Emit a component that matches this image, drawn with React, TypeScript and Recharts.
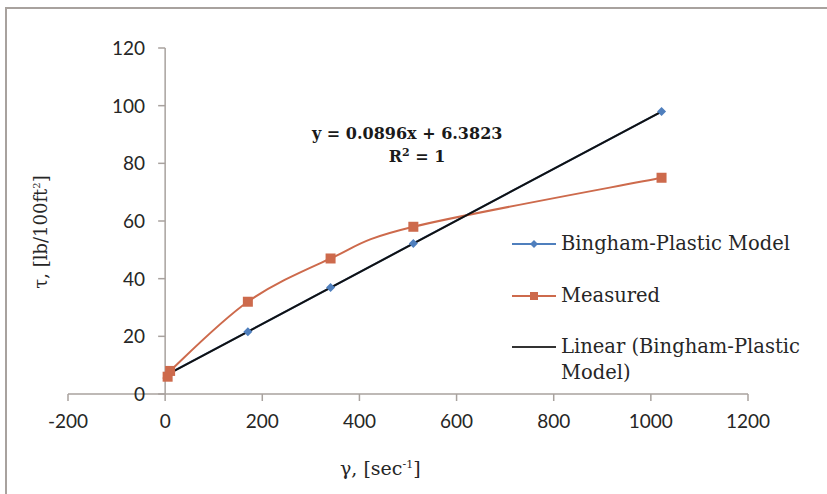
import { ComposedChart, Line, XAxis, YAxis, ReferenceLine } from 'recharts';

// shear rate (sec^-1) for the 3, 6, 100, 200, 300, 600 rpm readings
const shearRate = [5.11, 10.22, 170.3, 340.6, 511, 1022];
const binghamStress = [6.84, 7.3, 21.6, 36.9, 52.2, 97.95];
const measuredStress = [6, 8, 32, 47, 58, 75];
const trendX = [5.11, 1022];
const trendY = [6.84, 97.95];

const xTicks = [-200, 0, 200, 400, 600, 800, 1000, 1200];
const yTicks = [0, 20, 40, 60, 80, 100, 120];

const BLUE = '#4f7fbd';
const ORANGE = '#cd6a4c';
const AXIS = '#a8a29e';
const TEXT = '#262626';
const SERIF = '"DejaVu Serif", Georgia, serif';
const SANS = 'Lato, "Open Sans", sans-serif';

const W = 827;
const H = 494;
const Y_AXIS_W = 1;
const margin = { top: 48, right: 79, bottom: 70, left: 67 };
const X_MIN = -200;
const X_MAX = 1200;
const PLOT_LEFT = margin.left + Y_AXIS_W;
// y axis crosses at x = 0
const AXIS_X = PLOT_LEFT + ((W - PLOT_LEFT - margin.right) * (0 - X_MIN)) / (X_MAX - X_MIN);

const bingham = shearRate.map((x, i) => ({ x, y: binghamStress[i] }));
const measured = shearRate.map((x, i) => ({ x, y: measuredStress[i] }));
const trend = trendX.map((x, i) => ({ x, y: trendY[i] }));

// Excel-like smoothed line (Catmull-Rom through the points)
const excelSmooth = (context: any) => {
  let pts: number[][] = [];
  return {
    areaStart() {},
    areaEnd() {},
    lineStart() {
      pts = [];
    },
    point(x: number, y: number) {
      pts.push([+x, +y]);
    },
    lineEnd() {
      if (!pts.length) return;
      context.moveTo(pts[0][0], pts[0][1]);
      for (let i = 0; i < pts.length - 1; i++) {
        const p0 = pts[i - 1] || pts[i];
        const p1 = pts[i];
        const p2 = pts[i + 1];
        const p3 = pts[i + 2] || p2;
        context.bezierCurveTo(
          p1[0] + (p2[0] - p0[0]) / 6,
          p1[1] + (p2[1] - p0[1]) / 6,
          p2[0] - (p3[0] - p1[0]) / 6,
          p2[1] - (p3[1] - p1[1]) / 6,
          p2[0],
          p2[1]
        );
      }
    },
  };
};

const Diamond = ({ cx, cy }: any) => (
  <path d={`M${cx},${cy - 4.5}L${cx + 4.5},${cy}L${cx},${cy + 4.5}L${cx - 4.5},${cy}Z`} fill={BLUE} />
);

const Square = ({ cx, cy }: any) => <rect x={cx - 5} y={cy - 5} width={10} height={10} fill={ORANGE} />;

const renderYTick = ({ y, payload }: any) => (
  <g key={payload.value}>
    <line x1={AXIS_X - 7} x2={AXIS_X} y1={y} y2={y} stroke={AXIS} strokeWidth={1.5} />
    <text x={AXIS_X - 20} y={y} dy="0.36em" textAnchor="end" fill={TEXT} fontSize={19} fontFamily={SANS}>
      {payload.value}
    </text>
  </g>
);

const legendItems = [
  { label: 'Bingham-Plastic Model', color: BLUE, marker: 'diamond', top: 244 },
  { label: 'Measured', color: ORANGE, marker: 'square', top: 296 },
  { label: 'Linear (Bingham-Plastic\nModel)', color: '#333', marker: 'none', top: 347 },
];

export default function App() {
  return (
    <div
      style={{
        position: 'absolute',
        left: 0,
        top: 0,
        width: W,
        height: H,
        background: '#fff',
        overflow: 'hidden',
      }}
    >
      <div
        style={{
          position: 'absolute',
          left: 5,
          top: 7,
          width: W,
          height: H,
          borderTop: `2px solid ${AXIS}`,
          borderLeft: `2px solid ${AXIS}`,
        }}
      />
      <ComposedChart width={W} height={H} margin={margin}>
        <XAxis
          type="number"
          dataKey="x"
          domain={[X_MIN, X_MAX]}
          ticks={xTicks}
          allowDataOverflow
          height={30}
          stroke={AXIS}
          strokeWidth={1.5}
          tickSize={7}
          tickMargin={14}
          tick={{ fill: TEXT, fontSize: 19, fontFamily: SANS }}
        />
        <YAxis
          type="number"
          domain={[0, 120]}
          ticks={yTicks}
          width={Y_AXIS_W}
          axisLine={false}
          tickLine={false}
          tick={renderYTick}
        />
        <ReferenceLine x={0} stroke={AXIS} strokeWidth={1.5} />
        <Line
          data={bingham}
          dataKey="y"
          stroke={BLUE}
          strokeWidth={2}
          dot={<Diamond />}
          activeDot={false}
          isAnimationActive={false}
        />
        <Line
          data={measured}
          dataKey="y"
          type={excelSmooth as any}
          stroke={ORANGE}
          strokeWidth={2}
          dot={<Square />}
          activeDot={false}
          isAnimationActive={false}
        />
        <Line
          data={trend}
          dataKey="y"
          stroke="#111"
          strokeWidth={2}
          dot={false}
          activeDot={false}
          isAnimationActive={false}
        />
      </ComposedChart>

      <div
        style={{
          position: 'absolute',
          left: 312,
          top: 122,
          width: 186,
          textAlign: 'center',
          fontFamily: SERIF,
          fontWeight: 'bold',
          fontSize: 16,
          lineHeight: '23px',
          color: '#1a1a1a',
          whiteSpace: 'nowrap',
        }}
      >
        <div>y = 0.0896x + 6.3823</div>
        <div style={{ paddingLeft: 24 }}>
          R<sup style={{ fontSize: 11, lineHeight: 0 }}>2</sup> = 1
        </div>
      </div>

      {legendItems.map((item) => (
        <div key={item.label} style={{ position: 'absolute', left: 511, top: item.top - 13 }}>
          <svg width={46} height={26} style={{ position: 'absolute', left: 0, top: 0 }}>
            <line x1={1} x2={45} y1={13} y2={13} stroke={item.color} strokeWidth={2} />
            {item.marker === 'diamond' && <path d="M23,9L27,13L23,17L19,13Z" fill={item.color} />}
            {item.marker === 'square' && <rect x={19} y={9} width={8} height={8} fill={item.color} />}
          </svg>
          <div
            style={{
              position: 'absolute',
              left: 50,
              top: 0,
              whiteSpace: 'pre',
              fontFamily: SERIF,
              fontSize: 19.5,
              lineHeight: '26px',
              color: TEXT,
            }}
          >
            {item.label}
          </div>
        </div>
      ))}

      <div
        style={{
          position: 'absolute',
          left: 340,
          top: 457,
          whiteSpace: 'nowrap',
          fontFamily: SERIF,
          fontSize: 19,
          color: TEXT,
        }}
      >
        γ, [sec<sup style={{ fontSize: 11, lineHeight: 0 }}>-1</sup>]
      </div>
      <div
        style={{
          position: 'absolute',
          left: 40,
          top: 232,
          transform: 'translate(-50%, -50%) rotate(-90deg)',
          whiteSpace: 'nowrap',
          fontFamily: SERIF,
          fontSize: 18,
          color: TEXT,
        }}
      >
        τ, [lb/100ft<sup style={{ fontSize: 10, lineHeight: 0 }}>2</sup>]
      </div>
    </div>
  );
}
